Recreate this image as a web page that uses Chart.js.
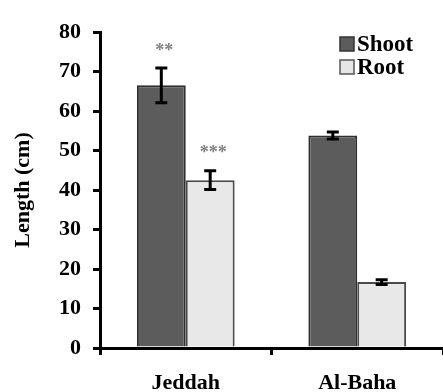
<!DOCTYPE html>
<html><head><meta charset="utf-8">
<script src="https://cdn.jsdelivr.net/npm/chart.js@4.4.1/dist/chart.umd.min.js"></script>
<style>html,body{margin:0;padding:0;background:#fff}#wrap{width:443px;height:392px}</style>
</head><body><div id="wrap"><canvas id="c" width="443" height="392"></canvas></div>
<script>
const categories = ["Jeddah", "Al-Baha"];
const shootValues = [66.5, 53.8];
const shootErrors = [4.4, 0.9];
const rootValues = [42.5, 16.7];
const rootErrors = [2.4, 0.6];
const shootMarks = ["**", ""];
const rootMarks = ["***", ""];
const yTicks = [0, 10, 20, 30, 40, 50, 60, 70, 80];

const SERIF = '"Liberation Serif", "Times New Roman", serif';

const errPlugin = {
  id: 'errs',
  afterDatasetsDraw(chart) {
    const ctx = chart.ctx, y = chart.scales.y;
    const sets = [[shootErrors, shootMarks], [rootErrors, rootMarks]];
    sets.forEach(([errs, marks], di) => {
      const meta = chart.getDatasetMeta(di);
      meta.data.forEach((bar, i) => {
        const v = chart.data.datasets[di].data[i];
        const top = y.getPixelForValue(v + errs[i]);
        const bot = y.getPixelForValue(v - errs[i]);
        ctx.save();
        ctx.strokeStyle = '#000'; ctx.lineWidth = 3;
        ctx.beginPath();
        ctx.moveTo(bar.x, top); ctx.lineTo(bar.x, bot);
        ctx.moveTo(bar.x - 6, top); ctx.lineTo(bar.x + 6, top);
        ctx.moveTo(bar.x - 6, bot); ctx.lineTo(bar.x + 6, bot);
        ctx.stroke();
        if (marks[i]) {
          ctx.fillStyle = '#808080';
          ctx.font = 'bold 18px ' + SERIF;
          ctx.textAlign = 'center'; ctx.textBaseline = 'middle';
          ctx.fillText(marks[i], bar.x + 3, top - 17);
        }
        ctx.restore();
      });
    });
    // legend
    const items = [['Shoot', '#5c5c5c', '#333'], ['Root', '#e6e6e6', '#555']];
    ctx.save();
    ctx.font = 'bold 23px ' + SERIF;
    ctx.textBaseline = 'middle'; ctx.textAlign = 'left';
    items.forEach((it, k) => {
      const cy = 44 + k * 23;
      ctx.fillStyle = it[1]; ctx.strokeStyle = it[2]; ctx.lineWidth = 1.5;
      ctx.fillRect(340, cy - 7, 14, 14); ctx.strokeRect(340, cy - 7, 14, 14);
      ctx.fillStyle = '#000';
      ctx.fillText(it[0], 357, cy + 1);
    });
    ctx.restore();
  }
};

new Chart(document.getElementById('c'), {
  type: 'bar',
  data: {
    labels: categories,
    datasets: [
      { label: 'Shoot', data: shootValues, backgroundColor: '#5c5c5c', borderColor: '#2e2e2e', borderWidth: 2 },
      { label: 'Root', data: rootValues, backgroundColor: '#e8e8e8', borderColor: '#4a4a4a', borderWidth: 2 }
    ]
  },
  options: {
    responsive: false, animation: false,
    layout: { padding: { left: 0, top: 32, right: 0, bottom: 0 } },
    plugins: { legend: { display: false }, tooltip: { enabled: false } },
    datasets: { bar: { categoryPercentage: 0.57, barPercentage: 1.0 } },
    scales: {
      x: {
        grid: { drawOnChartArea: false, drawTicks: true, tickLength: 7, color: '#000', lineWidth: 3, offset: true },
        border: { display: true, color: '#000', width: 3 },
        ticks: { color: '#000', font: { family: SERIF, size: 22, weight: 'bold' }, padding: 15 },
        afterFit(s) { s.height = 44; }
      },
      y: {
        min: 0, max: 80,
        afterBuildTicks(s) { s.ticks = yTicks.map(v => ({ value: v })); },
        grid: { drawOnChartArea: false, drawTicks: true, tickLength: 7, color: '#000', lineWidth: 3 },
        border: { display: true, color: '#000', width: 3 },
        ticks: { color: '#000', font: { family: SERIF, size: 22, weight: 'bold' }, padding: 12 },
        title: { display: true, text: 'Length (cm)', color: '#000', font: { family: SERIF, size: 22, weight: 'bold' }, padding: { top: 10, bottom: 0 } },
        afterFit(s) { s.width = 100; }
      }
    }
  },
  plugins: [errPlugin]
});
</script></body></html>
